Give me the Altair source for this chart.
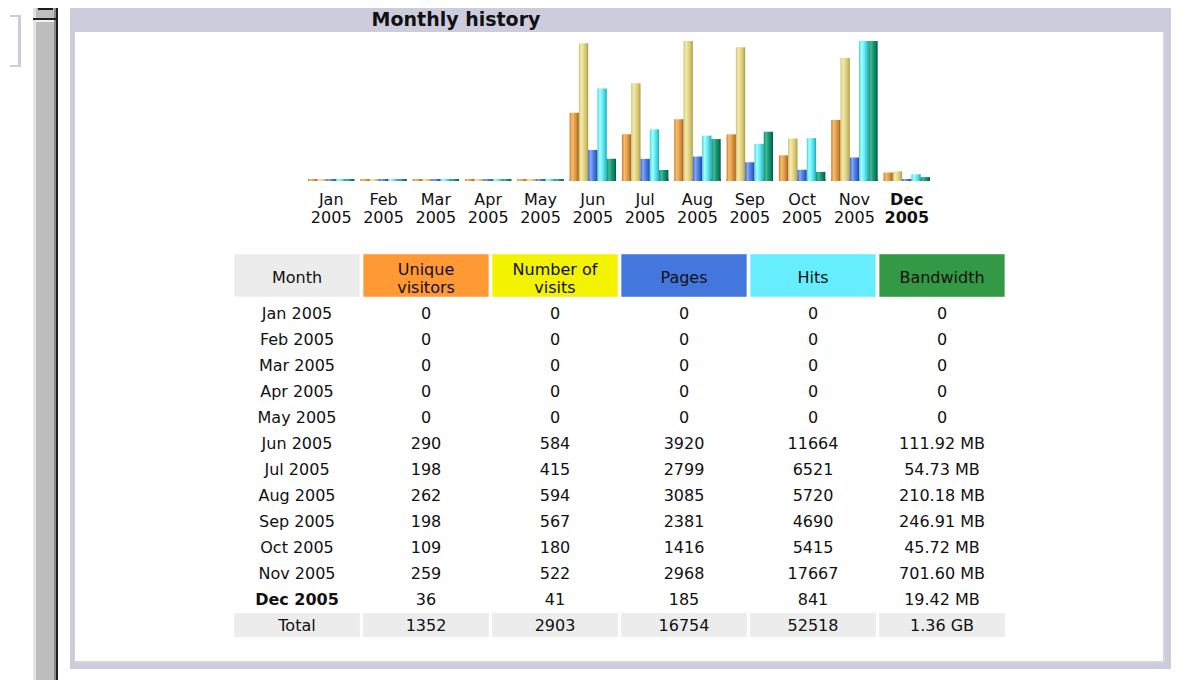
import altair as alt
import pandas as pd

# ---------------- data ----------------
months = ["Jan 2005", "Feb 2005", "Mar 2005", "Apr 2005", "May 2005", "Jun 2005",
          "Jul 2005", "Aug 2005", "Sep 2005", "Oct 2005", "Nov 2005", "Dec 2005"]
current_month = "Dec 2005"

unique_visitors = [0, 0, 0, 0, 0, 290, 198, 262, 198, 109, 259, 36]
visits = [0, 0, 0, 0, 0, 584, 415, 594, 567, 180, 522, 41]
pages = [0, 0, 0, 0, 0, 3920, 2799, 3085, 2381, 1416, 2968, 185]
hits = [0, 0, 0, 0, 0, 11664, 6521, 5720, 4690, 5415, 17667, 841]
bandwidth_mb = [0, 0, 0, 0, 0, 111.92, 54.73, 210.18, 246.91, 45.72, 701.60, 19.42]
bandwidth_labels = ["0", "0", "0", "0", "0", "111.92 MB", "54.73 MB", "210.18 MB",
                    "246.91 MB", "45.72 MB", "701.60 MB", "19.42 MB"]
totals = ["1352", "2903", "16754", "52518", "1.36 GB"]

metrics = ["Unique visitors", "Number of visits", "Pages", "Hits", "Bandwidth"]
columns = ["Month"] + metrics
header_labels = ["Month", "Unique\nvisitors", "Number of\nvisits", "Pages", "Hits", "Bandwidth"]
header_colors = ["#ECECEC", "#FF9933", "#F3F300", "#4477DD", "#66EEFF", "#339944"]
title_text = "Monthly history"

FONT = "DejaVu Sans"
OFF = 8  # page margin

# bar gradients (left -> right)
gradients = {
    "Unique visitors": ["#C87A2A", "#F5BE6E", "#EAA550", "#C98233", "#9A5A18"],
    "Number of visits": ["#CFC070", "#F4EBAC", "#E6D98A", "#CDBE6A", "#A89A48"],
    "Pages": ["#3A5FC8", "#86ACF7", "#5A85E8", "#3A62CC", "#1F3F9A"],
    "Hits": ["#3FCFDF", "#A8FFFF", "#6FF2F8", "#3FD0DC", "#1FA8B8"],
    "Bandwidth": ["#0F8A6A", "#45BC98", "#1C9A78", "#0A7A5A", "#005A40"],
}
stop_offsets = [0.0, 0.25, 0.5, 0.8, 1.0]

# ---------------- build tables ----------------
series = {
    "Unique visitors": unique_visitors,
    "Number of visits": visits,
    "Pages": pages,
    "Hits": hits,
    "Bandwidth": bandwidth_mb,
}
scale_max = {
    "Unique visitors": max(visits),
    "Number of visits": max(visits),
    "Pages": max(hits),
    "Hits": max(hits),
    "Bandwidth": max(bandwidth_mb),
}
bar_rows = []
for m in metrics:
    for mo, v in zip(months, series[m]):
        bar_rows.append({"month": mo, "metric": m, "value": v, "norm": v / scale_max[m]})
bars_df = pd.DataFrame(bar_rows)

labels_df = pd.DataFrame({"month": months, "label": [m.replace(" ", "\n") for m in months]})

rows = months + ["Total"]
cell_rows = []
for i, mo in enumerate(months):
    vals = [mo, str(unique_visitors[i]), str(visits[i]), str(pages[i]), str(hits[i]), bandwidth_labels[i]]
    for c, t in zip(columns, vals):
        cell_rows.append({"row": mo, "col": c, "text": t})
for c, t in zip(columns, ["Total"] + totals):
    cell_rows.append({"row": "Total", "col": c, "text": t})
cells_df = pd.DataFrame(cell_rows)
header_df = pd.DataFrame({"col": columns, "label": header_labels})

one = pd.DataFrame({"k": [0]})


def box(x0, x1, y0, y1, color):
    return alt.Chart(one).mark_rect(color=color).encode(
        x=alt.value(x0 - OFF), x2=alt.value(x1 - OFF),
        y=alt.value(y0 - OFF), y2=alt.value(y1 - OFF))


LAV = "#CCCCDD"
decor = [
    # browser/scroll chrome on the left
    box(10, 21, 15, 17, LAV), box(10, 21, 65, 67, LAV), box(18, 21, 15, 67, LAV),
    box(33, 36, 8, 698, "#E4E4E4"), box(36, 55, 8, 698, "#BDBDBD"),
    box(54, 56, 8, 698, "#8A8A8A"), box(56, 58, 8, 698, "#1E1E1E"),
    box(33, 58, 18, 20, "#1E1E1E"), box(36, 54, 20, 22, "#F2F2F2"),
    box(38, 53, 8, 10, "#1E1E1E"),
    # panel frame
    box(70, 1171, 8, 669, LAV),
    box(75, 1165, 32, 663, "#FFFFFF"),
    box(1163, 1165, 32, 663, "#D6D6D6"), box(75, 1165, 661, 663, "#D6D6D6"),
]

title = alt.Chart(pd.DataFrame({"t": [title_text]})).mark_text(
    font=FONT, fontSize=19, fontWeight="bold", color="#111111", align="center",
    baseline="alphabetic").encode(x=alt.value(456 - OFF), y=alt.value(26 - OFF), text="t:N")

# ---------------- bar chart ----------------
X_BAR = alt.X("month:N", scale=alt.Scale(domain=months, range=[297.07, 924.93],
                                          paddingInner=0.112, paddingOuter=0.056), axis=None)
XOFF = alt.XOffset("metric:N", scale=alt.Scale(domain=metrics, paddingInner=0, paddingOuter=0))
Y_BAR = alt.Y("norm:Q", scale=alt.Scale(domain=[0, 1], range=[181 - OFF, 41 - OFF]), axis=None)

bar_layers = []
for m in metrics:
    grad = alt.Gradient(gradient="linear",
                        stops=[alt.GradientStop(color=c, offset=o) for o, c in zip(stop_offsets, gradients[m])],
                        x1=0, x2=1, y1=0, y2=0)
    sub = alt.Chart(bars_df).transform_filter(alt.datum.metric == m)
    bar_layers.append(sub.mark_bar(color=grad).encode(
        x=X_BAR, xOffset=XOFF, y=Y_BAR, y2=alt.value(181 - OFF)))
    bar_layers.append(sub.mark_bar(color=grad).encode(
        x=X_BAR, xOffset=XOFF, y=alt.value(179 - OFF), y2=alt.value(181 - OFF)))

lab_base = alt.Chart(labels_df)
lab_kw = dict(font=FONT, fontSize=16, lineBreak="\n", lineHeight=18, align="center",
              baseline="alphabetic", color="#111111")
month_labels = lab_base.transform_filter(alt.datum.month != current_month).mark_text(**lab_kw).encode(
    x=X_BAR, y=alt.value(205 - OFF), text="label:N")
month_labels_bold = lab_base.transform_filter(alt.datum.month == current_month).mark_text(
    fontWeight="bold", **lab_kw).encode(x=X_BAR, y=alt.value(205 - OFF), text="label:N")

bars = alt.layer(*bar_layers, month_labels, month_labels_bold)

# ---------------- table ----------------
X_TAB = alt.X("col:N", scale=alt.Scale(domain=columns, range=[224.5, 998.5],
                                        paddingInner=0.025, paddingOuter=0.0125), axis=None)
Y_TAB = alt.Y("row:N", scale=alt.Scale(domain=rows, range=[300 - OFF, 638 - OFF],
                                        paddingInner=0.08, paddingOuter=0.04), axis=None)

header_rect = alt.Chart(header_df).mark_rect(stroke="#FFFFFF", strokeOpacity=0.45, strokeWidth=1).encode(
    x=X_TAB, y=alt.value(254 - OFF), y2=alt.value(297 - OFF),
    color=alt.Color("col:N", scale=alt.Scale(domain=columns, range=header_colors), legend=None))
hdr_kw = dict(font=FONT, fontSize=16, lineBreak="\n", lineHeight=18, align="center",
              baseline="alphabetic", color="#111111")
two_line = "indexof(datum.label, '\\n') >= 0"
header_text_1 = alt.Chart(header_df).transform_filter("!(" + two_line + ")").mark_text(**hdr_kw).encode(
    x=X_TAB, y=alt.value(283 - OFF), text="label:N")
header_text_2 = alt.Chart(header_df).transform_filter(two_line).mark_text(**hdr_kw).encode(
    x=X_TAB, y=alt.value(275 - OFF), text="label:N")

cells = alt.Chart(cells_df)
total_bg = cells.transform_filter(alt.datum.row == "Total").mark_rect(color="#ECECEC").encode(
    x=X_TAB, y=Y_TAB)
txt_kw = dict(font=FONT, fontSize=16, align="center", baseline="middle", color="#111111", dy=1)
is_bold = (alt.datum.row == current_month) & (alt.datum.col == "Month")
cell_text = cells.transform_filter(~is_bold).mark_text(**txt_kw).encode(x=X_TAB, y=Y_TAB, text="text:N")
cell_text_bold = cells.transform_filter(is_bold).mark_text(fontWeight="bold", **txt_kw).encode(
    x=X_TAB, y=Y_TAB, text="text:N")

table = alt.layer(header_rect, header_text_1, header_text_2, total_bg, cell_text, cell_text_bold)

chart = alt.layer(*decor, title, bars, table).resolve_scale(
    x="independent", y="independent", color="independent", xOffset="independent"
).properties(
    width=1172, height=672, padding=0,
    autosize=alt.AutoSizeParams(type="none"),
    background="#FFFFFF",
).configure_view(stroke=None)

chart.save("out.html", embed_options={"renderer": "svg", "actions": False})
